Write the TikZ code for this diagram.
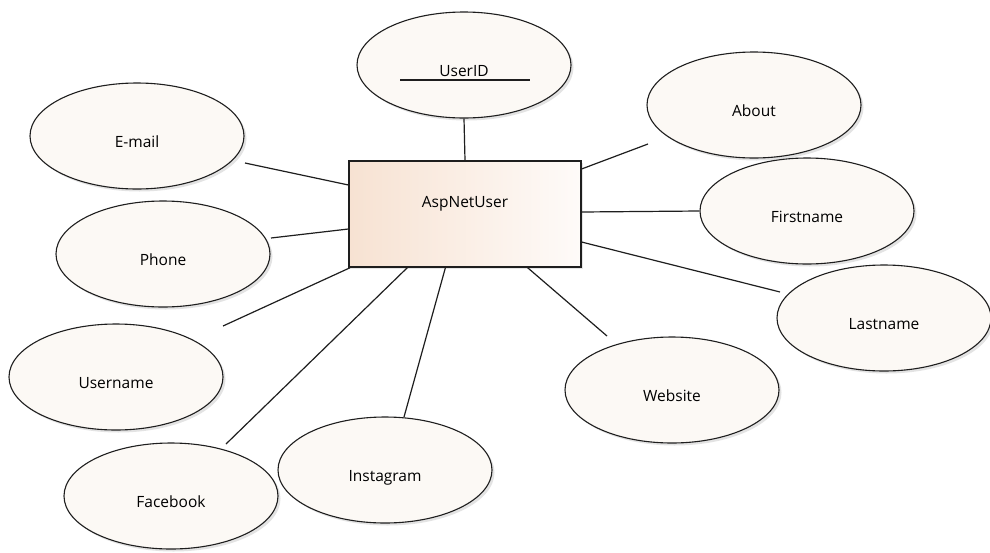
\documentclass[tikz,border=0pt]{standalone}
\usepackage{fontspec}
\setmainfont{Open Sans}
\usetikzlibrary{shapes.geometric,shadows}
\definecolor{attrfill}{RGB}{252,249,245}
\definecolor{entleft}{RGB}{247,226,210}
\definecolor{entright}{RGB}{254,251,249}
\definecolor{edge}{RGB}{30,30,30}
\tikzset{
  attr/.style={ellipse, draw=edge, line width=1.1pt, fill=attrfill,
    minimum width=214pt, minimum height=106pt, inner sep=0pt,
    font=\fontsize{15.5}{16}\selectfont, text height=22pt, text depth=0pt,
    drop shadow={opacity=0.22, shadow xshift=2.5pt, shadow yshift=-2.5pt}},
  entity/.style={rectangle, draw=edge, line width=1.1pt,
    left color=entleft, right color=entright, shading angle=90,
    minimum width=232pt, minimum height=106pt, inner sep=0pt,
    font=\fontsize{15.5}{16}\selectfont, text height=10pt, text depth=24pt,
    drop shadow={opacity=0.2, shadow xshift=2pt, shadow yshift=-2pt}},
  link/.style={draw=edge, line width=1.2pt},
}
\begin{document}
\begin{tikzpicture}[x=1pt,y=-1pt]
\useasboundingbox (0,0) rectangle (990,552);
\fill[white] (0,0) rectangle (990,552);

% entity
\node[entity] (user) at (465,214) {AspNetUser};

% attributes
\node[attr] (userid)    at (464,65)  {UserID};
\node[attr] (email)     at (137,136) {E-mail};
\node[attr] (phone)     at (163,254) {Phone};
\node[attr] (username)  at (116,377) {Username};
\node[attr] (facebook)  at (171,496) {Facebook};
\node[attr] (instagram) at (385,470) {Instagram};
\node[attr] (website)   at (672,390) {Website};
\node[attr] (lastname)  at (884,318) {Lastname};
\node[attr] (firstname) at (807,211) {Firstname};
\node[attr] (about)     at (754,105) {About};

% key underline
\draw[line width=1.1pt, draw=edge] ([xshift=-64pt,yshift=-15pt]userid.center) -- ++(130,0);

% free ends of the connectors
\coordinate (emailEnd)    at (245,163);
\coordinate (phoneEnd)    at (271,238);
\coordinate (usernameEnd) at (223,326);
\coordinate (facebookEnd) at (226,444);
\coordinate (instaEnd)    at (404,417);
\coordinate (webEnd)      at (607,336);
\coordinate (lastEnd)     at (780,292);
\coordinate (aboutEnd)    at (648,144);

% connectors
\draw[link] (userid.south) -- (user.north);
\draw[link] ([yshift=29pt]user.west) -- (emailEnd);
\draw[link] ([yshift=-15pt]user.west) -- (phoneEnd);
\draw[link] ([xshift=2pt]user.south west) -- (usernameEnd);
\draw[link] ([xshift=59pt]user.south west) -- (facebookEnd);
\draw[link] ([xshift=97pt]user.south west) -- (instaEnd);
\draw[link] ([xshift=179pt]user.south west) -- (webEnd);
\draw[link] ([yshift=-28pt]user.east) -- (lastEnd);
\draw[link] ([yshift=2pt]user.east) -- (firstname.west);
\draw[link] ([yshift=45pt]user.east) -- (aboutEnd);
\end{tikzpicture}
\end{document}
